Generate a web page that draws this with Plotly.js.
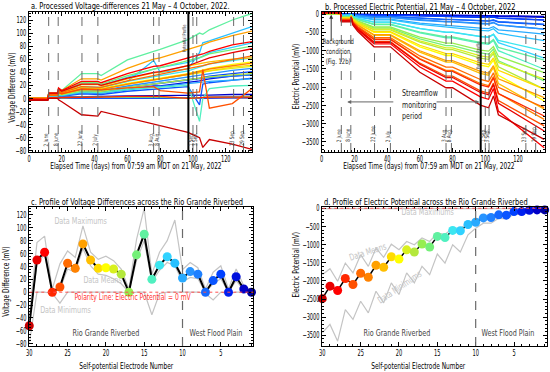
<!DOCTYPE html>
<html><head><meta charset="utf-8">
<script src="https://cdn.plot.ly/plotly-3.0.1.min.js"></script>
<style>html,body{margin:0;padding:0;background:#fff}#chart{width:550px;height:372px}</style>
</head><body><div id="chart"></div>
<script>
// ---------- DATA ----------
// Panel a: processed voltage differences (mV), time keyframes (days)
const TA = [0, 11.5, 12, 17.5, 18, 20, 32, 42, 44, 60, 76, 80, 97, 104, 106, 110, 124, 136];
const vd1  = [0,0,0,0,0,0,0,0,0,0,0,0,0,0,0,1,1,1];
const vd2  = [0,0,1,1,2,2,3,3,3,4,4,4,5,5,5,5,6,6];
const vd3  = [0,0,3,3,5,4,9,9,8,14,19,19,24,27,28,30,34,36];
const vd4  = [0,0,0,0,0,0,1,1,1,1,1,1,0,1,1,1,2,2];
const vd5  = [0,0,4,4,6,5,11,11,10,17,22,23,28,31,32,34,38,41];
const vd6  = [0,0,3,3,4,3,7,7,6,11,14,15,18,-10,22,24,28,31];
const vd7  = [0,0,0,0,0,0,1,1,1,1,1,1,0,1,1,2,2,3];
const vd8  = [0,0,4,4,6,5,11,11,10,17,22,23,28,30,31,32,34,36];
const vd9  = [0,0,4,4,7,5,13,13,12,19,25,26,32,35,36,38,43,46];
const vd10 = [0,0,3,3,5,4,9,9,8,13,17,18,22,24,25,26,28,30];
const vd11 = [0,0,6,6,10,8,18,18,17,26,58,40,45,70,85,88,100,110];
const vd12 = [0,0,7,7,12,9,22,22,20,33,45,47,55,62,65,70,78,85];
const vd13 = [0,0,6,6,10,8,17,17,16,26,34,35,42,48,50,53,58,62];
const vd14 = [0,0,4,4,6,5,10,10,9,14,17,17,20,-35,0,15,19,20];
const vd15 = [0,0,8,8,15,12,38,38,35,59,72,75,90,100,98,105,120,130];
const vd16 = [0,0,8,8,13,10,24,24,22,35,45,47,58,62,64,68,75,80];
const vd17 = [0,0,1,1,2,1,2,2,2,2,2,2,0,1,2,2,2,3];
const vd18 = [0,0,5,5,7,6,12,12,11,17,22,23,28,30,31,33,36,38];
const vd19 = [0,0,6,6,9,7,15,15,14,22,28,29,36,39,40,42,46,49];
const vd20 = [0,0,6,6,10,8,16,16,15,23,30,31,38,42,44,46,52,56];
const vd21 = [0,0,6,6,9,7,15,15,14,22,29,30,37,40,41,43,48,51];
const vd22 = [0,0,7,7,12,9,21,21,19,30,39,40,50,53,54,56,60,62];
const vd23 = [0,0,8,8,15,12,30,30,28,46,60,62,75,80,82,86,96,103];
const vd24 = [0,0,6,6,9,7,15,15,14,22,29,30,37,41,42,45,50,54];
const vd25 = [0,0,7,7,11,9,18,18,17,27,35,36,45,49,50,53,60,65];
const vd26 = [0,0,5,5,9,7,14,14,13,16,18,12,8,10,44,-15,-8,15];
const vd27 = [0,-2,1,1,2,1,2,2,2,3,3,3,0,1,2,2,2,2];
const vd28 = [-2,-2,8,8,16,12,26,26,24,38,49,50,62,66,68,72,82,87];
const vd29 = [-2,-2,8,8,14,11,22,22,20,31,40,41,50,56,58,62,70,76];
const vd30 = [-3,-3,0,0,-2,-5,-25,-27,-20,-30,-40,-42,-52,-60,-75,-63,-70,-78];
const vdSeries = [vd1,vd2,vd3,vd4,vd5,vd6,vd7,vd8,vd9,vd10,vd11,vd12,vd13,vd14,vd15,vd16,vd17,vd18,vd19,vd20,vd21,vd22,vd23,vd24,vd25,vd26,vd27,vd28,vd29,vd30];

// Panel b: processed electric potential (mV)
const TB = [0, 5, 11.5, 12, 17.5, 18, 19, 22, 32, 42, 60, 76, 80, 97, 102, 105, 108, 124, 136];
const ep1  = [0,3,0,-4,-4,-2,-5,-9,-16,-16,-29,-36,-36,-45,-46,-41,-51,-59,-65];
const ep2  = [0,3,0,-4,-4,-2,-5,-9,-16,-16,-29,-36,-36,-45,-46,-41,-53,-66,-75];
const ep3  = [0,3,0,-5,-5,-2,-7,-10,-20,-20,-35,-45,-45,-55,-57,-50,-65,-79,-90];
const ep4  = [0,3,0,-8,-8,-4,-11,-17,-32,-32,-58,-73,-73,-90,-93,-81,-110,-140,-160];
const ep5  = [0,3,0,-8,-8,-4,-11,-17,-32,-32,-58,-73,-73,-90,-93,-81,-111,-142,-165];
const ep6  = [0,3,0,-16,-16,-8,-23,-36,-68,-68,-122,-154,-154,-190,-196,-171,-218,-259,-290];
const ep7  = [0,3,0,-15,-15,-7,-22,-34,-65,-65,-115,-146,-146,-180,-185,-162,-207,-246,-275];
const ep8  = [0,3,0,-22,-22,-10,-31,-48,-92,-92,-163,-207,-207,-255,-263,-230,-298,-362,-410];
const ep9  = [0,3,0,-23,-23,-11,-32,-50,-95,-95,-170,-215,-215,-265,-273,-239,-306,-365,-410];
const ep10 = [0,3,0,-33,-33,-15,-46,-73,-139,-139,-246,-312,-312,-385,-397,-347,-431,-499,-550];
const ep11 = [5,10,5,-38,-38,-18,-53,-85,-160,-160,-285,-360,-360,-445,-458,-400,-525,-642,-730];
const ep12 = [5,10,5,-53,-53,-25,-74,-118,-223,-223,-397,-502,-502,-620,-639,-558,-784,-1024,-1205];
const ep13 = [5,10,5,-52,-52,-24,-73,-116,-220,-220,-390,-494,-494,-610,-628,-549,-721,-883,-1005];
const ep14 = [5,10,5,-68,-68,-32,-97,-153,-290,-290,-515,-652,-652,-805,-829,-725,-1002,-1291,-1510];
const ep15 = [5,10,5,-66,-66,-31,-93,-147,-279,-279,-496,-628,-628,-775,-798,-698,-911,-1110,-1260];
const ep16 = [10,20,8,-91,-91,-43,-128,-202,-383,-383,-682,-863,-863,-1065,-1097,-959,-1279,-1593,-1830];
const ep17 = [10,20,8,-84,-84,-39,-118,-187,-355,-355,-630,-798,-798,-985,-1015,-887,-1157,-1409,-1600];
const ep18 = [10,20,8,-102,-102,-48,-145,-229,-434,-434,-771,-976,-976,-1205,-1241,-1085,-1443,-1792,-2055];
const ep19 = [10,20,8,-97,-97,-46,-137,-218,-412,-412,-733,-927,-927,-1145,-1179,-1031,-1323,-1583,-1780];
const ep20 = [10,20,8,-119,-119,-56,-168,-266,-504,-504,-896,-1134,-1134,-1400,-1442,-1260,-1673,-2073,-2375];
const ep21 = [20,30,15,-113,-113,-53,-160,-254,-481,-481,-854,-1081,-1081,-1335,-1375,-1202,-1537,-1832,-2055];
const ep22 = [20,30,15,-138,-138,-65,-195,-309,-585,-585,-1040,-1316,-1316,-1625,-1674,-1463,-1899,-2301,-2605];
const ep23 = [20,30,15,-133,-133,-63,-188,-298,-565,-565,-1005,-1272,-1272,-1570,-1617,-1413,-1770,-2063,-2285];
const ep24 = [20,30,15,-162,-162,-76,-228,-361,-684,-684,-1216,-1539,-1539,-1900,-1957,-1710,-2174,-2576,-2880];
const ep25 = [20,30,15,-152,-152,-72,-215,-340,-644,-644,-1146,-1450,-1450,-1790,-1844,-1611,-2006,-2321,-2560];
const ep26 = [30,45,25,-179,-179,-84,-252,-399,-756,-756,-1344,-1701,-1701,-2100,-2163,-1890,-2369,-2762,-3060];
const ep27 = [30,45,25,-164,-164,-77,-232,-368,-697,-697,-1238,-1567,-1567,-1935,-1993,-1742,-2174,-2525,-2790];
const ep28 = [30,45,25,-193,-193,-91,-272,-430,-815,-815,-1450,-1835,-1835,-2265,-2333,-2039,-2656,-3228,-3660];
const ep29 = [30,45,25,-182,-182,-86,-257,-408,-772,-772,-1373,-1737,-1737,-2145,-2209,-1930,-2440,-2873,-3200];
const ep30 = [30,45,25,-212,-212,-100,-300,-473,-896,-896,-1594,-2017,-2017,-2490,-2565,-2240,-2755,-3140,-3430];
const epSeries = [ep1,ep2,ep3,ep4,ep5,ep6,ep7,ep8,ep9,ep10,ep11,ep12,ep13,ep14,ep15,ep16,ep17,ep18,ep19,ep20,ep21,ep22,ep23,ep24,ep25,ep26,ep27,ep28,ep29,ep30];

// Event markers (days) and labels
const EVENT_DAYS = [12, 17.8, 32.3, 42, 76, 79.3, 100, 102.3, 124.8, 130.8];
const EVENT_LABELS = ['2 June', '8 June', '22 June', '2 July', '3 Aug.', '8 Aug.', '1 Sep.', '3 Sep.', '23 Sep.', '29 Sep.'];
const PROFILE_DAY = 97.2;

// Panels c, d: profiles across electrodes (ordered electrode 30 -> 1)
const ELECTRODE = [30,29,28,27,26,25,24,23,22,21,20,19,18,17,16,15,14,13,12,11,10,9,8,7,6,5,4,3,2,1];
const profVD = [-52,50,62,0,8,45,37,75,50,37,38,36,28,0,58,90,20,42,55,45,22,32,28,0,18,28,0,24,5,0];
const maxVD  = [-38,77,87,5,44,64,54,103,62,51,56,49,36,5,82,130,28,62,80,112,35,46,38,5,31,41,5,36,10,3];
const meanVD = [-45,44,59,0,5,36,31,68,41,28,26,21,13,0,49,80,16,34,46,41,16,23,21,0,13,21,0,18,3,0];
const minVD  = [-80,0,0,-2,-17,0,0,0,0,0,0,0,0,-2,0,0,-35,-2,0,0,0,0,0,-2,-12,0,-2,0,0,0];
const profEP = [-2490,-2145,-2265,-1935,-2100,-1790,-1900,-1570,-1625,-1335,-1400,-1145,-1205,-985,-1065,-775,-805,-610,-620,-445,-385,-265,-255,-180,-190,-90,-90,-55,-45,-45];
const maxEP  = [-10,-10,-10,-10,-10,-10,-10,-10,-10,-10,-10,-10,-10,-10,-10,-10,-10,-10,-10,-10,-10,-10,-10,-10,-10,-10,-10,-10,-10,-10];
const meanEP = [-1830,-1665,-2010,-1510,-1780,-1280,-1600,-1100,-1350,-990,-1140,-915,-1005,-820,-915,-685,-715,-550,-550,-410,-320,-230,-210,-165,-165,-75,-75,-50,-44,-44];
const minEP  = [-3430,-3200,-3660,-2790,-3060,-2560,-2880,-2285,-2605,-2055,-2375,-1780,-2055,-1600,-1830,-1260,-1510,-1005,-1205,-730,-550,-410,-410,-275,-290,-165,-165,-90,-75,-65];

// ---------- STYLE ----------
const COLORS = ['#0000a0','#0000c8','#0010dd','#0020f0','#0040ff','#0a55ff','#1468ff','#1e80ff','#2894ff','#28aaff',
  '#28c0ff','#30d2ff','#3ce6f0','#50f0c0','#60f0a0','#74f078','#96ee50','#b4e83c','#d8f020','#ffff00',
  '#ffdc00','#ffbe00','#ffa000','#ff8200','#ff6a00','#ff5000','#ff2800','#ff0000','#e80000','#c80000'];
const FONT = "'Liberation Sans Narrow', 'Arial Narrow', 'DejaVu Sans Condensed', sans-serif";
const GREY = '#c4c4c4';
const K_TEXT = 0.78, K_TICK = 0.64;   // horizontal condensing of glyphs (narrow typeface look)

const traces = [];
for (let i = 0; i < 30; i++) {
  traces.push({x: TA, y: vdSeries[i], xaxis: 'x', yaxis: 'y', mode: 'lines',
    line: {color: COLORS[i], width: 1.3}, hoverinfo: 'skip'});
}
for (let i = 0; i < 30; i++) {
  traces.push({x: TB, y: epSeries[i], xaxis: 'x2', yaxis: 'y2', mode: 'lines',
    line: {color: COLORS[i], width: 1.3}, hoverinfo: 'skip'});
}
[maxVD, meanVD, minVD].forEach(s => traces.push({x: ELECTRODE, y: s, xaxis: 'x3', yaxis: 'y3', mode: 'lines',
  line: {color: GREY, width: 1.2}, hoverinfo: 'skip'}));
traces.push({x: ELECTRODE, y: profVD, xaxis: 'x3', yaxis: 'y3', mode: 'lines+markers', cliponaxis: false,
  line: {color: '#000', width: 2}, marker: {size: 9, color: ELECTRODE.map(e => COLORS[e-1])}, hoverinfo: 'skip'});
[maxEP, meanEP, minEP].forEach(s => traces.push({x: ELECTRODE, y: s, xaxis: 'x4', yaxis: 'y4', mode: 'lines',
  line: {color: GREY, width: 1.2}, hoverinfo: 'skip'}));
traces.push({x: ELECTRODE, y: profEP, xaxis: 'x4', yaxis: 'y4', mode: 'lines+markers', cliponaxis: false,
  line: {color: '#000', width: 1.5}, marker: {size: 9, color: ELECTRODE.map(e => COLORS[e-1])}, hoverinfo: 'skip'});

function axis(extra, minorDtick) {
  return Object.assign({
    showline: true, linecolor: '#000', linewidth: 1, mirror: 'ticks',
    ticks: 'inside', ticklen: 4, tickwidth: 1, tickcolor: '#000',
    showgrid: false, zeroline: false, autorange: false,
    tickfont: {family: FONT, size: 8.8, color: '#000'},
    minor: {ticks: 'inside', ticklen: 2, tickcolor: '#000', showgrid: false, dtick: minorDtick}
  }, extra);
}
const ydomTop = [1 - 152/372, 1 - 11.7/372];
const ydomBot = [1 - 346/372, 1 - 206.7/372];

const shapes = [];
const annotations = [];
function txt(text, xref, yref, x, y, o) {
  annotations.push(Object.assign({text, xref, yref, x, y, showarrow: false,
    font: {family: FONT, size: 8.5, color: '#000'}, xanchor: 'center', yanchor: 'middle'}, o || {}));
}

[['x','y',-76],['x2','y2',-3560]].forEach(([xr, yr, yb]) => {
  EVENT_DAYS.forEach((d, k) => {
    shapes.push({type: 'line', xref: xr, yref: yr + ' domain', x0: d, x1: d, y0: 0, y1: 1,
      line: {color: '#6a6a6a', width: 1, dash: 'dash'}});
    txt(EVENT_LABELS[k], xr, yr, d - 1.4, yb, {textangle: -90, yanchor: 'bottom', font: {family: FONT, size: 6, color: '#333'}});
  });
  shapes.push({type: 'line', xref: xr, yref: yr + ' domain', x0: PROFILE_DAY, x1: PROFILE_DAY, y0: 0, y1: 1,
    line: {color: '#000', width: 2}});
});
txt('Potential Profile', 'x', 'y', 94.8, 92, {textangle: -90, font: {family: FONT, size: 5, color: '#444'}});
txt('Potential Profile', 'x2', 'y2', 95.4, -1120, {textangle: -90, font: {family: FONT, size: 5, color: '#444'}});

// panel b notes
txt('Background<br>condition<br>(Fig. 12b)', 'x2', 'y2', 10, -1020, {font: {family: FONT, size: 7.5, color: '#222'}});
annotations.push({xref: 'x2', yref: 'y2', axref: 'x2', ayref: 'y2', x: 5.8, y: -20, ax: 5.8, ay: -780,
  showarrow: true, arrowhead: 2, arrowsize: 0.8, arrowwidth: 1, arrowcolor: '#333', text: ''});
txt('Streamflow<br>monitoring<br>period', 'x2', 'y2', 47.8, -2466, {xanchor: 'left', align: 'left', font: {family: FONT, size: 9, color: '#222'}});
annotations.push({xref: 'x2', yref: 'y2', axref: 'x2', ayref: 'y2', x: 15.6, y: -2404, ax: 44.7, ay: -2404,
  showarrow: true, arrowhead: 2, arrowsize: 0.8, arrowwidth: 1, arrowcolor: '#666', text: ''});
annotations.push({xref: 'x2', yref: 'y2', axref: 'x2', ayref: 'y2', x: 96.4, y: -2404, ax: 69.3, ay: -2404,
  showarrow: true, arrowhead: 2, arrowsize: 0.8, arrowwidth: 1, arrowcolor: '#666', text: ''});

// panels c, d
[['x3','y3'],['x4','y4']].forEach(([xr, yr]) => {
  shapes.push({type: 'line', xref: xr + ' domain', yref: yr, x0: 0, x1: 1, y0: 0, y1: 0,
    line: {color: '#ff5050', width: 1, dash: 'dot'}});
  shapes.push({type: 'line', xref: xr, yref: yr + ' domain', x0: 10, x1: 10, y0: 0, y1: 1,
    line: {color: '#6a6a6a', width: 1.2, dash: 'dash'}});
});
const LF = s => ({family: FONT, size: s, color: GREY});
txt('Data Maximums', 'x3', 'y3', 23.3, 111, {font: LF(9.2)});
txt('Data Means', 'x3', 'y3', 20.4, 19, {font: LF(9.2)});
txt('Data Minimums', 'x3', 'y3', 25.3, -27, {font: LF(9.2)});
txt('Polarity Line: Electric Potential = 0 mV', 'x3', 'y3', 16.4, -7, {font: {family: FONT, size: 8.6, color: '#ff3030'}});
txt('Rio Grande Riverbed', 'x3', 'y3', 20.0, -63, {font: {family: FONT, size: 9.2}});
txt('West Flood Plain', 'x3', 'y3', 5.6, -63, {font: {family: FONT, size: 9.2}});
txt('Data Maximums', 'x4', 'y4', 16.3, -93, {font: LF(9.2)});
txt('Data Means', 'x4', 'y4', 24.1, -1190, {textangle: -18, font: LF(9.2)});
txt('Data Minimums', 'x4', 'y4', 19.9, -2165, {textangle: -34, font: LF(9.2)});
txt('Rio Grande Riverbed', 'x4', 'y4', 20.2, -3426, {font: {family: FONT, size: 9.2}});
txt('West Flood Plain', 'x4', 'y4', 5.8, -3426, {font: {family: FONT, size: 9.2}});

// titles and axis titles
const TF = {family: FONT, size: 9.5, color: '#000'};
txt('a. Processed Voltage-differences 21 May – 4 October, 2022.', 'paper', 'paper', 29/550, 1 - 5.5/372, {xanchor: 'left', font: TF});
txt('b. Processed Electric Potential, 21 May – 4 October, 2022', 'paper', 'paper', 323/550, 1 - 6.5/372, {xanchor: 'left', font: TF});
txt('c. Profile of Voltage Differences across the Rio Grande Riverbed', 'paper', 'paper', 29/550, 1 - 201/372, {xanchor: 'left', font: TF});
txt('d. Profile of Electric Potential across the Rio Grande Riverbed', 'paper', 'paper', 321.7/550, 1 - 201/372, {xanchor: 'left', font: TF});
const AF = {family: FONT, size: 8.4, color: '#000'};
txt('Elapsed Time (days) from 07:59 am MDT on 21 May, 2022', 'paper', 'paper', 135.8/550, 1 - 166.5/372, {font: AF});
txt('Elapsed Time (days) from 07:59 am MDT on 21 May, 2022', 'paper', 'paper', 429/550, 1 - 166.5/372, {font: AF});
txt('Self-potential Electrode Number', 'paper', 'paper', 126/550, 1 - 365.5/372, {font: AF});
txt('Self-potential Electrode Number', 'paper', 'paper', 418.7/550, 1 - 365.5/372, {font: AF});
txt('Voltage Difference (mV)', 'paper', 'paper', 11.7/550, 1 - 88/372, {textangle: -90, font: AF});
txt('Electric Potential (mV)', 'paper', 'paper', 295.7/550, 1 - 76.7/372, {textangle: -90, font: AF});
txt('Voltage Difference (mV)', 'paper', 'paper', 6/550, 1 - 281.7/372, {textangle: -90, font: AF});
txt('Electric Potential (mV)', 'paper', 'paper', 295.7/550, 1 - 265/372, {textangle: -90, font: AF});

const layout = {
  width: 550, height: 372, margin: {l: 0, r: 0, t: 0, b: 0},
  paper_bgcolor: '#fff', plot_bgcolor: '#fff', showlegend: false,
  xaxis:  axis({domain: [29/550, 252/550], range: [0, 136], dtick: 20, tick0: 0, anchor: 'y'}, 2),
  yaxis:  axis({domain: ydomTop, range: [-82, 132.7], dtick: 20, tick0: 0, anchor: 'x'}, 5),
  xaxis2: axis({domain: [321.7/550, 545/550], range: [0, 136.5], dtick: 20, tick0: 0, anchor: 'y2'}, 2),
  yaxis2: axis({domain: ydomTop, range: [-3774, 64], dtick: 500, tick0: 0, anchor: 'x2'}, 100),
  xaxis3: axis({domain: [29.3/550, 253.3/550], range: [30, 0.76], dtick: 5, tick0: 0, anchor: 'y3'}, 1),
  yaxis3: axis({domain: ydomBot, range: [-83.5, 132.7], dtick: 20, tick0: 0, anchor: 'x3'}, 5),
  xaxis4: axis({domain: [322.3/550, 547/550], range: [30, 0.7], dtick: 5, tick0: 0, anchor: 'y4'}, 1),
  yaxis4: axis({domain: ydomBot, range: [-3794, 44], dtick: 500, tick0: 0, anchor: 'x4'}, 100),
  shapes, annotations
};

// Narrow the glyphs of every text (the reference uses a condensed typeface),
// keeping left-anchored / bottom-anchored annotation texts pinned to their anchor side.
function condense(gd) {
  gd.querySelectorAll('svg text').forEach(t => {
    const pc = (t.parentNode && t.parentNode.getAttribute('class')) || '';
    const isTick = /tick/.test(pc);
    const k = isTick ? K_TICK : K_TEXT;
    const lines = t.querySelectorAll('tspan.line');
    const targets = lines.length ? Array.from(lines) : [t];
    let maxLen = 0;
    targets.forEach(el => {
      const len = el.getComputedTextLength ? el.getComputedTextLength() : 0;
      if (len > 0) {
        maxLen = Math.max(maxLen, len);
        el.setAttribute('textLength', (len * k).toFixed(2));
        el.setAttribute('lengthAdjust', 'spacingAndGlyphs');
      }
    });
    if (isTick && /^x\d*tick$/.test(pc)) {
      // x tick labels sit a little closer to the axis line in the reference
      const prev = t.getAttribute('transform') || '';
      t.setAttribute('transform', (prev + ' translate(0,-2)').trim());
      return;
    }
    if (!t.classList.contains('annotation-text') || maxLen === 0) return;
    if ((t.getAttribute('text-anchor') || 'middle') !== 'middle') return;
    const g = t.closest('g.annotation');
    if (!g) return;
    const a = gd.layout.annotations[+g.getAttribute('data-index')];
    if (!a) return;
    const ang = a.textangle || 0;
    const pinStart = (ang === 0 && a.xanchor === 'left') || (ang === -90 && a.yanchor === 'bottom');
    if (!pinStart) return;
    const dx = maxLen * (1 - k) / 2;
    const prev = t.getAttribute('transform') || '';
    t.setAttribute('transform', (prev + ' translate(' + (-dx).toFixed(2) + ',0)').trim());
  });
}
Plotly.newPlot('chart', traces, layout, {displayModeBar: false, staticPlot: true}).then(condense);
</script></body></html>
